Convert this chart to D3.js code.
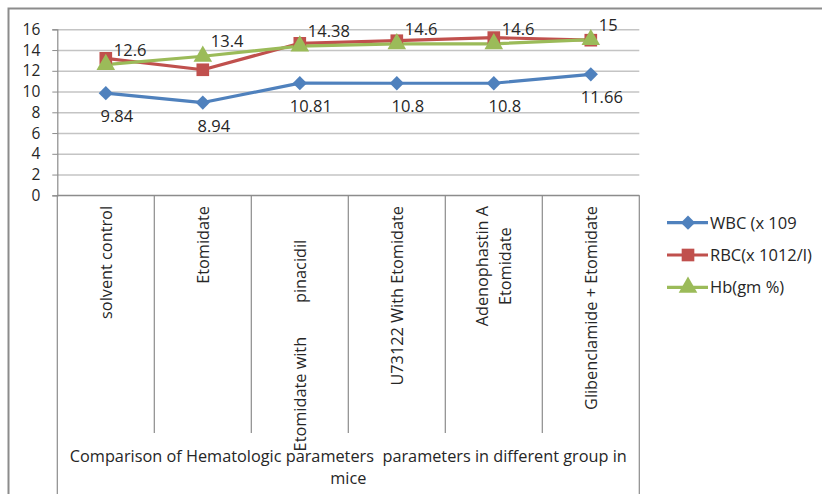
<!DOCTYPE html>
<html>
<head>
<meta charset="utf-8">
<script src="https://cdn.jsdelivr.net/npm/d3@7"></script>
<style>
  html, body { margin: 0; padding: 0; background: #fff; }
  svg { display: block; font-family: "Open Sans", "Liberation Sans", sans-serif; }
</style>
</head>
<body>
<svg id="chart" width="822" height="494"></svg>
<script>
// Treatment groups (category axis); "\n" marks a wrapped second line
const categories = [
  "solvent control",
  "Etomidate",
  "Etomidate with        pinacidil        ",
  "U73122 With Etomidate",
  "Adenophastin A\nEtomidate",
  "Glibenclamide + Etomidate"
];
const groupTitle = ["Comparison of Hematologic parameters  parameters in different group in", "mice"];

const seriesNames = ["WBC (x 109", "RBC(x 1012/l)", "Hb(gm %)"];
const wbcValues = [9.84, 8.94, 10.81, 10.8, 10.8, 11.66];
const rbcValues = [13.2, 12.1, 14.65, 14.9, 15.2, 14.95];
const hbValues  = [12.6, 13.4, 14.38, 14.6, 14.6, 15];
const yTicks = [0, 2, 4, 6, 8, 10, 12, 14, 16];

const colors = ["#4F81BD", "#C0504D", "#9BBB59"];
const textColor = "#262626";

const svg = d3.select("#chart");
const plot = { left: 57.3, right: 639.3, top: 29.3, bottom: 195.3 };

// outer chart frame
svg.append("rect")
  .attr("x", 8.5).attr("y", 8.5).attr("width", 840).attr("height", 520)
  .attr("fill", "none").attr("stroke", "#8c8c8c").attr("stroke-width", 2);

const x = d3.scaleBand().domain(categories).range([plot.left, plot.right]);
const y = d3.scaleLinear().domain([0, 16]).range([plot.bottom, plot.top]);

// horizontal gridlines
svg.append("g")
  .attr("transform", `translate(${plot.left},0)`)
  .call(d3.axisLeft(y).tickValues(yTicks).tickSize(-(plot.right - plot.left)).tickFormat(""))
  .call(g => g.select(".domain").remove())
  .call(g => g.selectAll("line").attr("stroke", "#c4c4c4").attr("stroke-width", 1.6));

// y axis with tick labels
svg.append("g")
  .attr("transform", `translate(${plot.left},0)`)
  .call(d3.axisLeft(y).tickValues(yTicks).tickSize(5).tickPadding(12))
  .call(g => g.select(".domain").attr("stroke", "#8c8c8c").attr("stroke-width", 1.2))
  .call(g => g.selectAll("line").attr("stroke", "#8c8c8c"))
  .call(g => g.selectAll("text")
    .attr("fill", textColor)
    .style("font-size", "15.5px")
    .style("font-family", "'Open Sans', sans-serif"));

// category axis line and dividers
const axisG = svg.append("g").attr("stroke", "#8c8c8c").attr("stroke-width", 1.2);
axisG.append("line")
  .attr("x1", plot.left).attr("x2", plot.right)
  .attr("y1", plot.bottom).attr("y2", plot.bottom);
categories.forEach((c, i) => {
  const xe = x(c);
  if (i > 0) {
    axisG.append("line").attr("x1", xe).attr("x2", xe)
      .attr("y1", plot.bottom).attr("y2", 433);
  }
});
[plot.left, plot.right].forEach(xe => {
  axisG.append("line").attr("x1", xe).attr("x2", xe)
    .attr("y1", plot.bottom).attr("y2", 500);
});

// rotated category labels, top-aligned under the axis, wrapped lines centred
const lineH = 23;
categories.forEach(c => {
  const lines = c.split("\n");
  const g = svg.append("g");
  const texts = lines.map((ln, i) => g.append("text")
    .attr("text-anchor", "middle")
    .attr("fill", textColor)
    .style("font-size", "16.3px")
    .style("white-space", "pre")
    .attr("xml:space", "preserve")
    .text(ln));
  const w = d3.max(texts, t => t.node().getComputedTextLength());
  const cy = 206 + w / 2;
  const cx = x(c) + x.bandwidth() / 2;
  texts.forEach((t, i) => {
    const off = (i - (lines.length - 1) / 2) * lineH;
    t.attr("transform", `translate(${cx + off + 6},${cy}) rotate(-90)`);
  });
});

// group title under the category labels
groupTitle.forEach((t, i) => {
  svg.append("text")
    .attr("x", (plot.left + plot.right) / 2)
    .attr("y", 462 + i * 22)
    .attr("text-anchor", "middle")
    .attr("fill", textColor)
    .style("font-size", "16.3px")
    .style("white-space", "pre")
    .attr("xml:space", "preserve")
    .text(t);
});

// series lines + markers
const allSeries = [wbcValues, rbcValues, hbValues];
const cx = i => x(categories[i]) + x.bandwidth() / 2;
const line = d3.line().x((d, i) => cx(i)).y(d => y(d));

const markerPath = [
  d3.symbol().type(d3.symbolDiamond2).size(130)(),
  d3.symbol().type(d3.symbolSquare).size(160)(),
  d3.symbol().type(d3.symbolTriangle).size(150)()
];

allSeries.forEach((vals, s) => {
  svg.append("path")
    .datum(vals)
    .attr("d", line)
    .attr("fill", "none")
    .attr("stroke", colors[s])
    .attr("stroke-width", 3.2)
    .attr("stroke-linejoin", "round");
});
allSeries.forEach((vals, s) => {
  svg.append("g").selectAll("path")
    .data(vals)
    .join("path")
    .attr("d", markerPath[s])
    .attr("transform", (d, i) => `translate(${cx(i)},${y(d)})`)
    .attr("fill", colors[s]);
});

// data labels: WBC below its points, Hb above-right
svg.append("g").selectAll("text")
  .data(wbcValues)
  .join("text")
  .attr("x", (d, i) => cx(i) + 11)
  .attr("y", d => y(d) + 29)
  .attr("text-anchor", "middle")
  .attr("fill", textColor)
  .style("font-size", "16.5px")
  .text(d => d);

svg.append("g").selectAll("text")
  .data(hbValues)
  .join("text")
  .attr("x", (d, i) => cx(i) + 8)
  .attr("y", d => y(d) - 9)
  .attr("text-anchor", "start")
  .attr("fill", textColor)
  .style("font-size", "16.5px")
  .text(d => d);

// legend
const legend = svg.append("g");
seriesNames.forEach((name, s) => {
  const ly = 222.7 + s * 32.3;
  legend.append("line")
    .attr("x1", 667).attr("x2", 708).attr("y1", ly).attr("y2", ly)
    .attr("stroke", colors[s]).attr("stroke-width", 3.2);
  legend.append("path")
    .attr("d", markerPath[s])
    .attr("transform", `translate(688,${ly})`)
    .attr("fill", colors[s]);
  legend.append("text")
    .attr("x", 710).attr("y", ly + 6)
    .attr("fill", textColor)
    .style("font-size", "16.5px")
    .text(name);
});
</script>
</body>
</html>
